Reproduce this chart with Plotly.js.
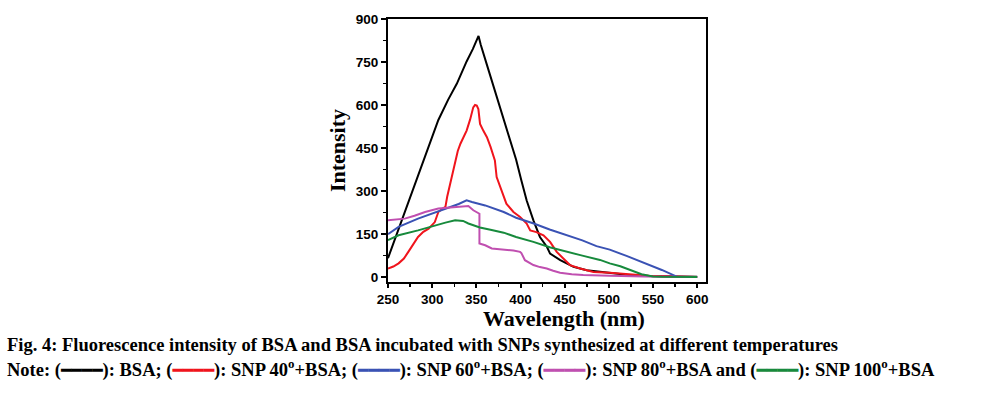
<!DOCTYPE html>
<html>
<head>
<meta charset="utf-8">
<script src="https://cdn.plot.ly/plotly-3.0.1.min.js"></script>
<style>html,body{margin:0;padding:0;background:#fff;}#chart{width:985px;height:396px;}</style>
</head>
<body>
<div id="chart"></div>
<script>
// Series names
const seriesNames = ['BSA', 'SNP 40°+BSA', 'SNP 60°+BSA', 'SNP 80°+BSA', 'SNP 100°+BSA'];

// BSA (black)
const bsaX = [250,262,275,285,295,307,318,328,339,346,352.5,355,362,369,380,388,395,401,407,414.6,422,430,433.5,445,460,475,490,501,520,543,570,600];
const bsaY = [66,169,275,362,450,548,618,675,752,795,841,810,740,670,560,478,410,337,267,198,140,105,82,59,36,24,18,16,8,4,2,1];

// SNP 40 + BSA (red)
const snp40X = [250,256,262,268,273,279,284,290,296,303,307,312,315,317,320,323,326,329,332,336,339,343,346.5,348.5,350.5,352.3,354.2,358,362,366,371,373,377,384,392,399.5,407,411,418,426,433.5,441,448.5,456,467.5,482.5,501,520,545,570,600];
const snp40Y = [30,37,48,65,88,115,140,158,169,192,227,239,245,280,320,370,407,440,465,490,511,550,592,600,598,586,534,510,488,455,407,349,314,256,227,210,187,163,157,146,123,88,65,42,30,18,15,10,5,2,0];

// SNP 60 + BSA (blue)
const snp60X = [250,262,284,300,315,330,339,345,360,370,381,395,415,433,452,470,486,501,520,540,560,578,600];
const snp60Y = [150,175,204,222,239,255,268,262,250,240,227,207,187,166,146,128,108,96,74,50,25,0,0];

// SNP 80 + BSA (magenta)
const snp80X = [250,260,269,280,292,307,322,341,346.6,352,353.5,353.5,360,367.5,377,383,392,399.5,401,405,414.6,422,429.7,437,444.8,458,471,501,540,600];
const snp80Y = [198,201,204,214,227,239,244,248,233,222,221,117,111,100,97,96,93,88,84,59,42,35,30,22,15,10,7,5,2,0];

// SNP 100 + BSA (green)
const snp100X = [250,262,284,303,315,326,335,341,354,366,381,395,414.6,433,452,470,490,501,513,525,537,550,560,600];
const snp100Y = [129,146,163,181,190,198,196,187,173,165,155,140,123,104,88,75,60,48,38,25,10,2,1,0];

const seriesX = [bsaX, snp40X, snp60X, snp80X, snp100X];
const seriesY = [bsaY, snp40Y, snp60Y, snp80Y, snp100Y];
const seriesColors = ['#000000', '#f0141c', '#3a52b4', '#c04fb0', '#178a3c'];

// Axis ticks
const xTickVals = [250, 300, 350, 400, 450, 500, 550, 600];
const yTickVals = [0, 150, 300, 450, 600, 750, 900];

const xTitle = 'Wavelength (nm)';
const yTitle = 'Intensity';
const captionTitle = 'Fig. 4: Fluorescence intensity of BSA and BSA incubated with SNPs synthesized at different temperatures';
const notePrefix = 'Note: ';
const noteLabels = ['BSA', 'SNP 40<sup>o</sup>+BSA', 'SNP 60<sup>o</sup>+BSA', 'SNP 80<sup>o</sup>+BSA', 'SNP 100<sup>o</sup>+BSA'];

const traces = seriesX.map((xs, i) => ({
  x: xs, y: seriesY[i], type: 'scatter', mode: 'lines', name: seriesNames[i],
  line: {color: seriesColors[i], width: 2}, hoverinfo: 'x+y+name'
}));

const swatch = c => '(<span style="color:' + c + ';font-family:DejaVu Sans;font-size:17.3px">━━━━</span>)';
let noteText = notePrefix;
noteLabels.forEach((lab, i) => {
  noteText += swatch(seriesColors[i]) + ': ' + lab;
  if (i < 3) noteText += '; ';
  else if (i === 3) noteText += ' and ';
});

const L = 388, R = 279, T = 19, B = 114;
const W = 985 - L - R, H = 396 - T - B;
const px = x => (x - L) / W;
const py = y => (396 - B - y) / H;

const serifBold = {family: 'Liberation Serif, Times New Roman, serif', color: '#000', weight: 'bold'};
const captionFont = Object.assign({}, serifBold, {size: 18.5});
const titleFont = Object.assign({}, serifBold, {size: 22});
const tickFont = {family: 'Liberation Sans, Arial, sans-serif', size: 13.5, color: '#000', weight: 'bold'};

const layout = {
  width: 985, height: 396,
  margin: {l: L, r: R, t: T, b: B, pad: 0},
  paper_bgcolor: '#fff', plot_bgcolor: '#fff',
  showlegend: false,
  xaxis: {
    range: [250, 610], tickvals: xTickVals, ticktext: xTickVals.map(String),
    showline: true, linecolor: '#000', linewidth: 2, mirror: true,
    ticks: 'outside', ticklen: 4, tickwidth: 2, tickcolor: '#000',
    minor: {dtick: 25, tick0: 250, ticks: 'outside', ticklen: 3, tickwidth: 1.5, tickcolor: '#000', showgrid: false},
    showgrid: false, zeroline: false,
    tickfont: tickFont
  },
  yaxis: {
    range: [-17, 900], tickvals: yTickVals, ticktext: yTickVals.map(String),
    showline: true, linecolor: '#000', linewidth: 2, mirror: true,
    ticks: 'outside', ticklen: 5, tickwidth: 2, tickcolor: '#000',
    minor: {dtick: 75, tick0: 0, ticks: 'outside', ticklen: 3, tickwidth: 1.5, tickcolor: '#000', showgrid: false},
    showgrid: false, zeroline: false,
    tickfont: tickFont,
    title: {text: yTitle, standoff: 4, font: titleFont}
  },
  annotations: [
    {text: '<b>' + xTitle + '</b>', xref: 'paper', yref: 'paper', x: px(563.5), y: py(318),
     xanchor: 'center', yanchor: 'middle', showarrow: false, font: titleFont},
    {text: '<b>' + captionTitle + '</b>', xref: 'paper', yref: 'paper', x: px(5), y: py(345),
     xanchor: 'left', yanchor: 'middle', showarrow: false, font: captionFont},
    {text: '<b>' + noteText + '</b>', xref: 'paper', yref: 'paper', x: px(5), y: py(368),
     xanchor: 'left', yanchor: 'middle', showarrow: false, font: captionFont}
  ]
};

Plotly.newPlot('chart', traces, layout, {displayModeBar: false, staticPlot: true});
</script>
</body>
</html>
